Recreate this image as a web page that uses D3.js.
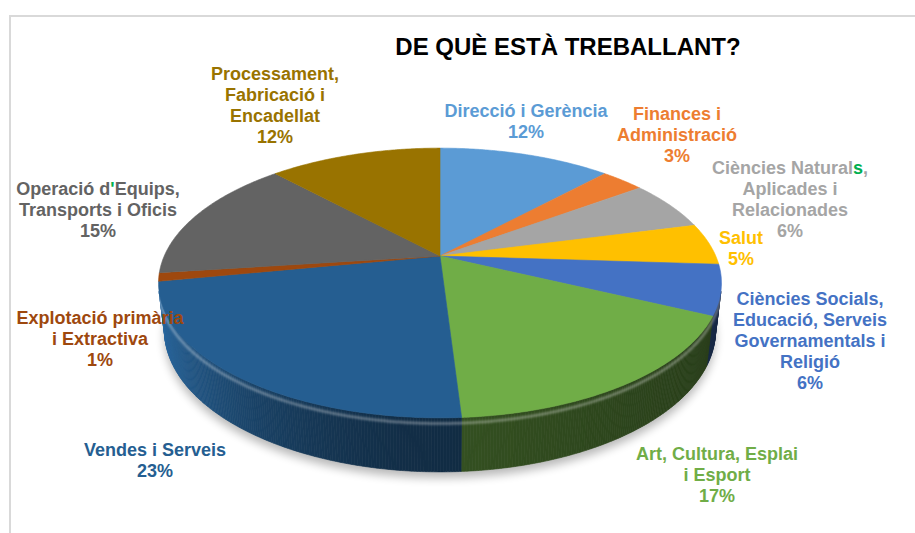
<!DOCTYPE html>
<html>
<head>
<meta charset="utf-8">
<script src="https://cdn.jsdelivr.net/npm/d3@7"></script>
<style>
  body { margin: 0; background: #fff; }
  text { font-family: "Liberation Sans", Arial, sans-serif; font-weight: bold; }
</style>
</head>
<body>
<div id="chart"></div>
<script>
// chart data ----------------------------------------------------------
// [x] marks a character Excel drew in green
var categories = [
  "Direcció i Gerència",
  "Finances i\nAdministració",
  "Ciències Natural[s],\nAplicades i\nRelacionades",
  "Salut",
  "Ciències Socials,\nEducació, Serveis\nGovernamentals i\nReligió",
  "Art, Cultura, Esplai\ni Esport",
  "Vendes i Serveis",
  "Explotació primària\ni Extractiva",
  "Operació d[']Equips,\nTransports i Oficis",
  "Processament,\nFabricació i\nEncadellat"
];
var values = [12, 3, 6, 5, 6, 17, 23, 1, 15, 12];
var title = "DE QUÈ ESTÀ TREBALLANT?";

// styles / layout ------------------------------------------------------
var sliceColors = ["#5b9bd5", "#ed7d31", "#a5a5a5", "#ffc000", "#4472c4",
                   "#70ad47", "#255e91", "#9e480e", "#636363", "#997300"];
var markColor = "#00b050";
// label anchors: centre x, centre y of first line
var labelPos = [[526, 110], [677, 113], [790, 167], [741, 237], [810, 298],
                [717, 453], [155, 449], [100, 317], [98, 188], [275, 73]];
var lineHeight = 21;

var width = 915;
var height = 533;

var svg = d3.select("#chart")
  .append("svg")
  .attr("width", width)
  .attr("height", height);

var defs = svg.append("defs");
defs.append("filter").attr("id", "shadow")
  .attr("x", "-20%").attr("y", "-20%").attr("width", "140%").attr("height", "140%")
  .append("feGaussianBlur").attr("stdDeviation", 5);
defs.append("filter").attr("id", "soft")
  .append("feGaussianBlur").attr("stdDeviation", 1.2);

// frame
svg.append("path")
  .attr("d", "M10,533V16H915")
  .attr("fill", "none")
  .attr("stroke", "#d9d9d9")
  .attr("stroke-width", 2);

// simple perspective camera for the 3d pie
var view = { cx: 440, cy: 256, tilt: 28 * Math.PI / 180, dist: 4.413, focal: 1217, thick: 0.196 };
var sT = Math.sin(view.tilt);
var cT = Math.cos(view.tilt);

function project(a, r, z) {
  var px = r * Math.sin(a);
  var py = r * Math.cos(a);   // positive = away from viewer
  var yc = py * sT + z * cT;
  var zc = py * cT + view.dist - z * sT;
  return [view.cx + view.focal * px / zc, view.cy - view.focal * yc / zc];
}

function rimPoints(a0, a1, z) {
  var n = Math.max(2, Math.ceil((a1 - a0) / (Math.PI / 360)));
  var pts = [];
  for (var i = 0; i <= n; i++) {
    pts.push(project(a0 + (a1 - a0) * i / n, 1, z));
  }
  return pts;
}

var line = d3.line();

var data = values.map(function(v, i) { return { name: categories[i], value: v, color: sliceColors[i] }; });
var pie = d3.pie().sort(null).value(function(d) { return d.value; });
var slices = pie(data);

// range of the side wall facing the camera
var limit = Math.acos(-1 / (view.dist * cT));
var visMin = limit;
var visMax = 2 * Math.PI - limit;

// shadow under the pie
svg.append("path")
  .attr("d", line(rimPoints(0, 2 * Math.PI, -view.thick)) + "Z")
  .attr("transform", "translate(0,6)")
  .attr("fill", "#000")
  .attr("opacity", 0.28)
  .attr("filter", "url(#shadow)");

// side walls, lit from the left
function shade(color, a) {
  var nx = Math.sin(a);
  var f = 0.47 - 0.13 * nx + (nx < 0 ? 0.52 * nx * nx : 0);
  var c = d3.rgb(color);
  return d3.rgb(c.r * f, c.g * f, c.b * f).formatHex();
}

var sideGroup = svg.append("g");
slices.forEach(function(s) {
  var a0 = Math.max(s.startAngle, visMin);
  var a1 = Math.min(s.endAngle, visMax);
  if (a1 <= a0) return;
  var n = Math.max(1, Math.ceil((a1 - a0) / (Math.PI / 360)));
  for (var i = 0; i < n; i++) {
    var b0 = a0 + (a1 - a0) * i / n;
    var b1 = a0 + (a1 - a0) * (i + 1) / n;
    var col = shade(s.data.color, (b0 + b1) / 2);
    var quad = [project(b0, 1, 0), project(b1, 1, 0), project(b1, 1, -view.thick), project(b0, 1, -view.thick)];
    sideGroup.append("path")
      .attr("d", line(quad) + "Z")
      .attr("fill", col)
      .attr("stroke", col)
      .attr("stroke-width", 0.6);
  }
});

// bevel highlight along the front rim
svg.append("path")
  .attr("d", line(rimPoints(visMin, visMax, -0.02)))
  .attr("fill", "none")
  .attr("stroke", "#fff")
  .attr("stroke-opacity", 0.35)
  .attr("stroke-width", 2.5)
  .attr("filter", "url(#soft)");

// top faces
var apex = project(0, 0, 0);
svg.append("g").selectAll("path")
  .data(slices)
  .enter()
  .append("path")
  .attr("d", function(s) { return line([apex].concat(rimPoints(s.startAngle, s.endAngle, 0))) + "Z"; })
  .attr("fill", function(s) { return s.data.color; })
  .attr("stroke", function(s) { return s.data.color; })
  .attr("stroke-width", 0.6)
  .attr("stroke-linejoin", "round");

// title
svg.append("text")
  .attr("x", 568)
  .attr("y", 55)
  .attr("text-anchor", "middle")
  .attr("font-size", 24)
  .attr("fill", "#000")
  .text(title);

// data labels
var labels = svg.append("g").attr("font-size", 18).attr("text-anchor", "middle");
slices.forEach(function(s, i) {
  var lines = s.data.name.split("\n");
  lines.push(Math.round(s.data.value) + "%");
  var t = labels.append("text")
    .attr("fill", s.data.color);
  lines.forEach(function(ln, j) {
    var tl = t.append("tspan")
      .attr("x", labelPos[i][0])
      .attr("y", labelPos[i][1] + 6.5 + j * lineHeight);
    // split on [x] markers
    var parts = ln.split(/(\[[^\]]*\])/);
    parts.forEach(function(p) {
      if (!p) return;
      if (p[0] === "[") {
        tl.append("tspan").attr("fill", markColor).text(p.slice(1, -1));
      } else {
        tl.append("tspan").text(p);
      }
    });
  });
});
</script>
</body>
</html>
